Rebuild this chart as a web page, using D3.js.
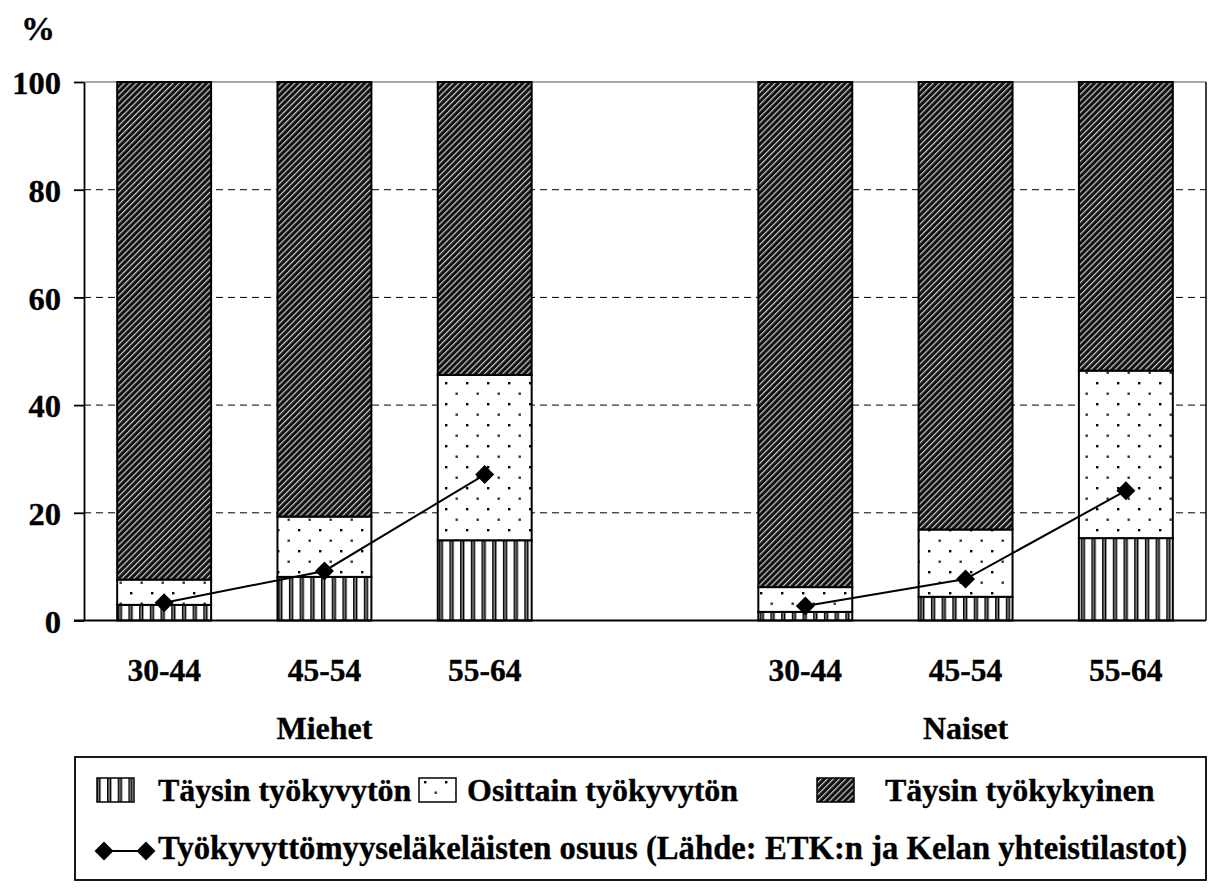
<!DOCTYPE html>
<html><head><meta charset="utf-8">
<script src="https://cdn.jsdelivr.net/npm/d3@7"></script>
<style>html,body{margin:0;padding:0;background:#fff;} text{stroke:#000;stroke-width:0.35px;}</style>
</head><body>
<script>
// ---- data ----
const sexes = ["Miehet", "Naiset"];
const ageGroups = ["30-44", "45-54", "55-64"];
const taysinTyokyvyton   = [2.9, 8.1, 14.9, 1.6, 4.4, 15.3];
const osittainTyokyvyton = [4.7, 11.2, 30.7, 4.6, 12.5, 31.1];
const taysinTyokykyinen  = [92.4, 80.7, 54.4, 93.8, 83.1, 53.6];
const elakelaistenOsuus  = [3.3, 9.2, 27.1, 2.7, 7.7, 24.1];
const yTicks = [0, 20, 40, 60, 80, 100];
const seriesNames = ["Täysin työkyvytön", "Osittain työkyvytön", "Täysin työkykyinen"];
const lineName = "Työkyvyttömyyseläkeläisten osuus (Lähde: ETK:n ja Kelan yhteistilastot)";

const W = 1208, H = 891;
const FONT = "'Liberation Serif','Times New Roman',serif";
const svg = d3.select("body").append("svg").attr("width", W).attr("height", H)
  .style("font-family", FONT).style("font-weight", "bold");

// patterns
const defs = svg.append("defs");
const pv = defs.append("pattern").attr("id", "pVert").attr("patternUnits", "userSpaceOnUse")
  .attr("width", 10.7).attr("height", 10);
pv.append("rect").attr("width", 10.7).attr("height", 10).attr("fill", "#fff");
pv.append("rect").attr("x", 0).attr("width", 1.7).attr("height", 10).attr("fill", "#000");
pv.append("rect").attr("x", 1.7).attr("width", 1.0).attr("height", 10).attr("fill", "#888");
pv.append("rect").attr("x", 2.7).attr("width", 1.6).attr("height", 10).attr("fill", "#000");

const pd = defs.append("pattern").attr("id", "pDots").attr("patternUnits", "userSpaceOnUse")
  .attr("width", 21).attr("height", 21);
pd.append("rect").attr("width", 21).attr("height", 21).attr("fill", "#fff");
pd.append("rect").attr("x", 4).attr("y", 4).attr("width", 2.4).attr("height", 2.4).attr("fill", "#000");
pd.append("rect").attr("x", 14.5).attr("y", 14.5).attr("width", 2.4).attr("height", 2.4).attr("fill", "#333");

const ph = defs.append("pattern").attr("id", "pHatch").attr("patternUnits", "userSpaceOnUse")
  .attr("width", 4.3).attr("height", 10).attr("patternTransform", "rotate(45)");
ph.append("rect").attr("width", 4.3).attr("height", 10).attr("fill", "#111");
ph.append("rect").attr("x", 0).attr("width", 1.2).attr("height", 10).attr("fill", "#ccc");

const fills = ["url(#pVert)", "url(#pDots)", "url(#pHatch)"];

// scales
const slots = [];
sexes.forEach((s, gi) => {
  ageGroups.forEach(a => slots.push(s + "|" + a));
  if (gi < sexes.length - 1) slots.push("gap" + gi);
});
const barSlots = slots.filter(d => !d.startsWith("gap"));
const x = d3.scaleBand().domain(slots).range([84, 1206]).paddingInner(0.414).paddingOuter(0.207);
const y = d3.scaleLinear().domain([0, 100]).range([620.5, 82]);

// gridlines
svg.append("g").selectAll("line").data(yTicks.filter(t => t > 0 && t < 100)).join("line")
  .attr("x1", 84).attr("x2", 1206).attr("y1", d => y(d)).attr("y2", d => y(d))
  .attr("stroke", "#000").attr("stroke-width", 1).attr("stroke-dasharray", "7,5");

// plot frame top/right
svg.append("line").attr("x1", 84).attr("x2", 1206).attr("y1", y(100)).attr("y2", y(100))
  .attr("stroke", "#555").attr("stroke-width", 1.2);
svg.append("line").attr("x1", 1206).attr("x2", 1206).attr("y1", y(100)).attr("y2", y(0))
  .attr("stroke", "#000").attr("stroke-width", 1.5);

// bars
const stacks = barSlots.map((k, i) => {
  const vals = [taysinTyokyvyton[i], osittainTyokyvyton[i], taysinTyokykyinen[i]];
  let c = 0;
  return vals.map((v, si) => { const seg = { key: k, si, y0: c, y1: c + v }; c += v; return seg; });
}).flat();
svg.append("g").selectAll("rect").data(stacks).join("rect")
  .attr("x", d => x(d.key)).attr("width", x.bandwidth())
  .attr("y", d => y(Math.min(d.y1, 100))).attr("height", d => y(d.y0) - y(Math.min(d.y1, 100)))
  .attr("fill", d => fills[d.si]).attr("stroke", "#000").attr("stroke-width", 2);

// axes
const yAxis = svg.append("g").attr("transform", "translate(84,0)")
  .call(d3.axisLeft(y).tickValues(yTicks).tickSize(10).tickPadding(13).tickSizeOuter(0));
yAxis.select(".domain").attr("stroke-width", 1.8);
yAxis.selectAll(".tick line").attr("stroke-width", 1.8);
yAxis.selectAll("text").attr("font-size", 32.5).attr("font-family", FONT).attr("font-weight", "bold")
  .attr("dy", "0.36em").attr("fill", "#000");

svg.append("line").attr("x1", 74).attr("x2", 1206).attr("y1", y(0)).attr("y2", y(0))
  .attr("stroke", "#000").attr("stroke-width", 1.8);

// x labels
svg.append("g").selectAll("text").data(barSlots).join("text")
  .attr("x", d => x(d) + x.bandwidth() / 2).attr("y", 681)
  .attr("text-anchor", "middle").attr("font-size", 31.5)
  .text(d => d.split("|")[1]);
svg.append("g").selectAll("text").data(sexes).join("text")
  .attr("x", s => x(s + "|" + ageGroups[1]) + x.bandwidth() / 2).attr("y", 739)
  .attr("text-anchor", "middle").attr("font-size", 32).text(s => s);

// line series
const diamond = (cx, cy, r) => `M${cx},${cy - r}L${cx + r},${cy}L${cx},${cy + r}L${cx - r},${cy}Z`;
const lineGen = d3.line().x(d => d.x).y(d => d.y);
sexes.forEach((s, gi) => {
  const pts = ageGroups.map((a, ai) => {
    const k = s + "|" + a;
    return { x: x(k) + x.bandwidth() / 2, y: y(elakelaistenOsuus[gi * ageGroups.length + ai]) };
  });
  svg.append("path").attr("d", lineGen(pts)).attr("fill", "none").attr("stroke", "#000").attr("stroke-width", 2);
  svg.append("g").selectAll("path").data(pts).join("path")
    .attr("d", p => diamond(p.x, p.y, 9.5)).attr("fill", "#000");
});

// % label
svg.append("text").attr("x", 21).attr("y", 40).attr("font-size", 34).text("%");

// legend
const lg = svg.append("g");
lg.append("rect").attr("x", 75).attr("y", 757).attr("width", 1131).attr("height", 123)
  .attr("fill", "#fff").attr("stroke", "#000").attr("stroke-width", 1.8);
const swX = [97, 419, 817], txX = [158, 467, 885];
seriesNames.forEach((n, i) => {
  lg.append("rect").attr("x", swX[i]).attr("y", 778).attr("width", 37).attr("height", 24)
    .attr("fill", fills[i]).attr("stroke", "#000").attr("stroke-width", 1.5);
  lg.append("text").attr("x", txX[i]).attr("y", 801).attr("font-size", 32).text(n);
});
lg.append("line").attr("x1", 104).attr("x2", 146).attr("y1", 851).attr("y2", 851)
  .attr("stroke", "#000").attr("stroke-width", 2);
[104, 146].forEach(cx => lg.append("path").attr("d", diamond(cx, 851, 9.5)).attr("fill", "#000"));
lg.append("text").attr("x", 158).attr("y", 859).attr("font-size", 32.7).text(lineName);
</script>
</body></html>
